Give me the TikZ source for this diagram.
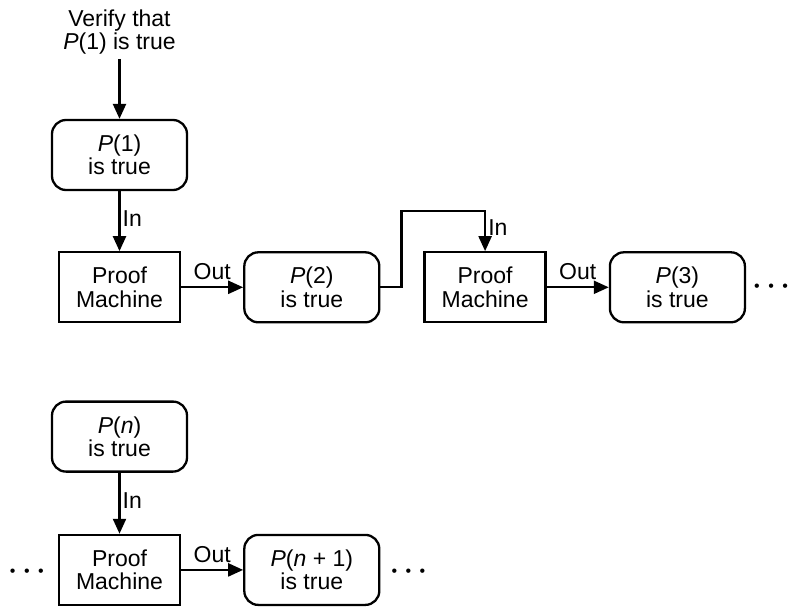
\documentclass[tikz,border=0pt]{standalone}
\usepackage{fontspec}
\setmainfont{Liberation Sans}
\usetikzlibrary{positioning,arrows.meta}

\begin{document}
\begin{tikzpicture}[node distance={62pt}, line width=2.3pt,
  >={Triangle[length=15pt,width=13pt]},
  font=\fontsize{23}{23.5}\selectfont,
  state/.style = {draw, rounded corners=14pt, minimum width=135pt, minimum height=70pt, align=center, inner sep=0pt},
  machine/.style = {draw, minimum width=121pt, minimum height=70pt, align=center, inner sep=0pt},
  dots/.style = {inner sep=0pt, font=\fontsize{16}{16}\selectfont}]
            \useasboundingbox (0,0) rectangle (789pt,-607pt);
            % Nodes
            \node[state] (p1) at (119.5pt,-155pt) {\textit{P}(1)\\is true};
            \node[align=center] (verify) [above=60pt of p1] {Verify that\\\textit{P}(1) is true};
            \node[machine] (pm1) [below=60pt of p1] {Proof\\Machine};
            \node[state] (p2) [right=62pt of pm1] {\textit{P}(2)\\is true};
            \node[machine] (pm2) [right=43pt of p2] {Proof\\Machine};
            \node[state] (p3) [right=62pt of pm2] {\textit{P}(3)\\is true};
            \node[dots] (dots1) at ([xshift=25pt]p3.east) {•\kern8.5pt•\kern8.5pt•};
            \node[state] (pn) [below=77pt of pm1] {\textit{P}(\textit{n})\\is true};
            \node[machine] (pm3) [below=61pt of pn] {Proof\\Machine};
            \node[state] (pnext) [right=62pt of pm3] {\textit{P}(\textit{n} + 1)\\is true};
            \node[dots] (dots2) at ([xshift=-31pt,yshift=-3pt]pm3.west) {•\kern8.5pt•\kern8.5pt•};
            \node[dots] (dots3) at ([xshift=28pt,yshift=-3pt]pnext.east) {•\kern8.5pt•\kern8.5pt•};
            \coordinate (over2) at ([yshift=40pt]pm2.north);
            % Edges
            \draw[->] (verify) -- (p1);
            \draw[->] (p1) -- (pm1) node[pos=0.45,right,inner sep=2pt] (in1) {In};
            \draw[->] (pm1) -- (p2) node[midway,above,inner sep=6pt] (out1) {Out};
            \draw[->] (p2.east) -- ++(21pt,0) |- (over2) -- (pm2.north) node[pos=0.4,right,inner sep=2pt] (in2) {In};
            \draw[->] (pm2) -- (p3) node[midway,above,inner sep=6pt] (out2) {Out};
            \draw[->] (pn) -- (pm3) node[pos=0.45,right,inner sep=2pt] (in3) {In};
            \draw[->] (pm3) -- (pnext) node[midway,above,inner sep=6pt] (out3) {Out};
            \end{tikzpicture}
\end{document}
